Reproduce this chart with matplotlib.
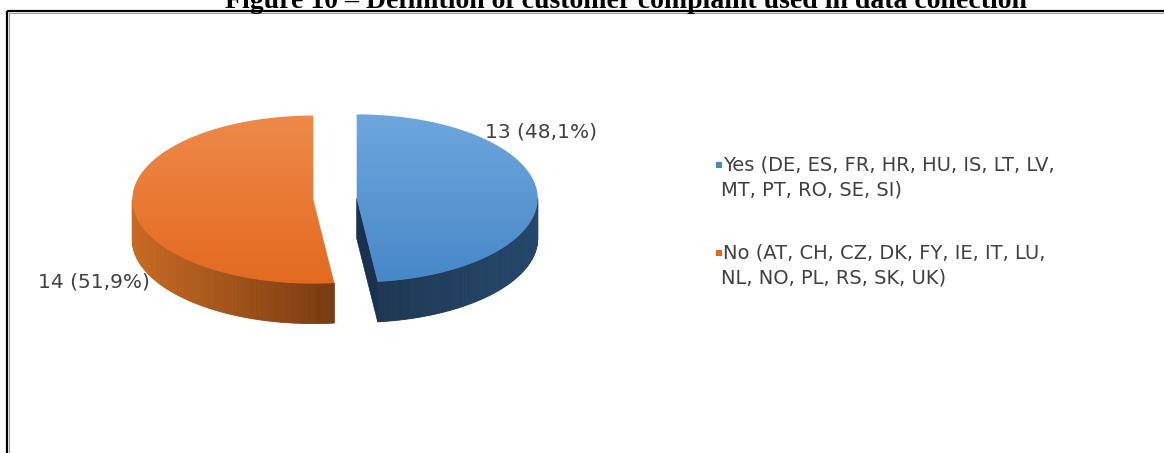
import numpy as np
import matplotlib
matplotlib.use("Agg")
import matplotlib.pyplot as plt
from matplotlib.patches import Polygon, Rectangle
from matplotlib.colors import LinearSegmentedColormap, to_rgb

# ---------------- data ----------------
title = "Figure 10 – Definition of customer complaint used in data collection"
categories = ["Yes", "No"]
values = [13, 14]
legend_lines = [
    ["Yes (DE, ES, FR, HR, HU, IS, LT, LV,", "MT, PT, RO, SE, SI)"],
    ["No (AT, CH, CZ, DK, FY, IE, IT, LU,", "NL, NO, PL, RS, SK, UK)"],
]

# ---------------- style ----------------
top_light = ["#6ea7dd", "#ee8a4a"]
top_dark = ["#4787c8", "#e3691f"]
side_left = ["#1d3753", "#c86a22"]
side_right = ["#25476b", "#783a10"]
cut_col = ["#1a3250", "#6e3410"]
text_col = "#404040"

W, H = 1164, 453
fig = plt.figure(figsize=(W / 100, H / 100), dpi=100)
ax = fig.add_axes([0, 0, 1, 1])
ax.set_xlim(0, W)
ax.set_ylim(H, 0)
ax.axis("off")

# frame (partially visible box)
ax.plot([6.5, W + 5], [10.5, 10.5], color="black", lw=1.6, solid_capstyle="butt")
ax.plot([6.5, 6.5], [10.5, H + 5], color="black", lw=1.6, solid_capstyle="butt")
ax.plot([8.5, W + 5], [12.5, 12.5], color="#a0a0a0", lw=0.8)
ax.plot([8.5, 8.5], [12.5, H + 5], color="#a0a0a0", lw=0.8)

ax.text(626, 7.5, title, ha="center", va="baseline", fontfamily="Liberation Serif",
        fontweight="bold", fontsize=20, color="black", clip_on=False)

# ---------------- 3D pie geometry ----------------
cx, cy = 335.0, 199.0
a, b = 181.0, 84.0
depth = 40.0
explode = 0.12

total = float(sum(values))
fracs = [v / total for v in values]
bounds = np.concatenate([[0], np.cumsum(fracs)]) * 360.0  # clockwise from top


def pt(c, th, dy=0.0):
    r = np.radians(th)
    return c[0] + a * np.sin(r), c[1] - b * np.cos(r) + dy


centers = []
for i in range(len(values)):
    mid = np.radians((bounds[i] + bounds[i + 1]) / 2)
    centers.append((cx + a * explode * np.sin(mid), cy - b * explode * np.cos(mid)))


def blend(c1, c2, t):
    c1, c2 = np.array(to_rgb(c1)), np.array(to_rgb(c2))
    return tuple(c1 + (c2 - c1) * t)


# side walls (front half: 90..270 clockwise from top)
for i in range(len(values)):
    t0, t1 = max(bounds[i], 90.0), min(bounds[i + 1], 270.0)
    if t1 <= t0:
        continue
    c = centers[i]
    ths = np.linspace(t0, t1, 120)
    xs = [pt(c, t)[0] for t in ths]
    xmin, xmax = min(xs), max(xs)
    for k in range(len(ths) - 1):
        ta, tb = ths[k], ths[k + 1]
        xa, ya = pt(c, ta)
        xb, yb = pt(c, tb)
        s = ((xa + xb) / 2 - xmin) / (xmax - xmin)
        col = blend(side_left[i], side_right[i], s)
        poly = Polygon([(xa, ya), (xb, yb), (xb, yb + depth), (xa, ya + depth)],
                       closed=True, facecolor=col, edgecolor=col, lw=0.6)
        ax.add_patch(poly)

# visible cut face (left edge of the right slice at its end angle)
c = centers[0]
th = bounds[1]
x1, y1 = pt(c, th)
face = Polygon([c, (x1, y1), (x1, y1 + depth), (c[0], c[1] + depth)], closed=True,
               facecolor=cut_col[0], edgecolor=cut_col[0], lw=0.5)
ax.add_patch(face)

# top surfaces with vertical gradient
for i in range(len(values)):
    c = centers[i]
    ths = np.linspace(bounds[i], bounds[i + 1], 200)
    pts = [c] + [pt(c, t) for t in ths]
    poly = Polygon(pts, closed=True, facecolor="none", edgecolor="none")
    ax.add_patch(poly)
    cmap = LinearSegmentedColormap.from_list("g%d" % i, [top_light[i], top_dark[i]])
    grad = np.linspace(0, 1, 256).reshape(-1, 1)
    im = ax.imshow(grad, cmap=cmap, extent=(c[0] - a - 2, c[0] + a + 2, c[1] + b + 2, c[1] - b - 2),
                   aspect="auto", interpolation="bilinear", zorder=2)
    im.set_clip_path(poly)

# data labels
label_pos = [(541, 132), (94, 282)]
for i, v in enumerate(values):
    pct = ("%.1f" % (v / total * 100)).replace(".", ",")
    ax.text(label_pos[i][0], label_pos[i][1], "%d (%s%%)" % (v, pct), ha="center",
            va="center", fontsize=14.5, color=text_col, fontfamily="DejaVu Sans", zorder=5)

# legend
leg_y = [165, 253]
for i in range(len(values)):
    ax.add_patch(Rectangle((716, leg_y[i] - 3.5), 6, 6, facecolor=top_dark[i], edgecolor="none", zorder=5))
    for j, line in enumerate(legend_lines[i]):
        ax.text(723 if j == 0 else 721, leg_y[i] + 24.5 * j, line, ha="left", va="center",
                fontsize=14, color=text_col, fontfamily="DejaVu Sans", zorder=5)

fig.savefig("out.png", dpi=100)
